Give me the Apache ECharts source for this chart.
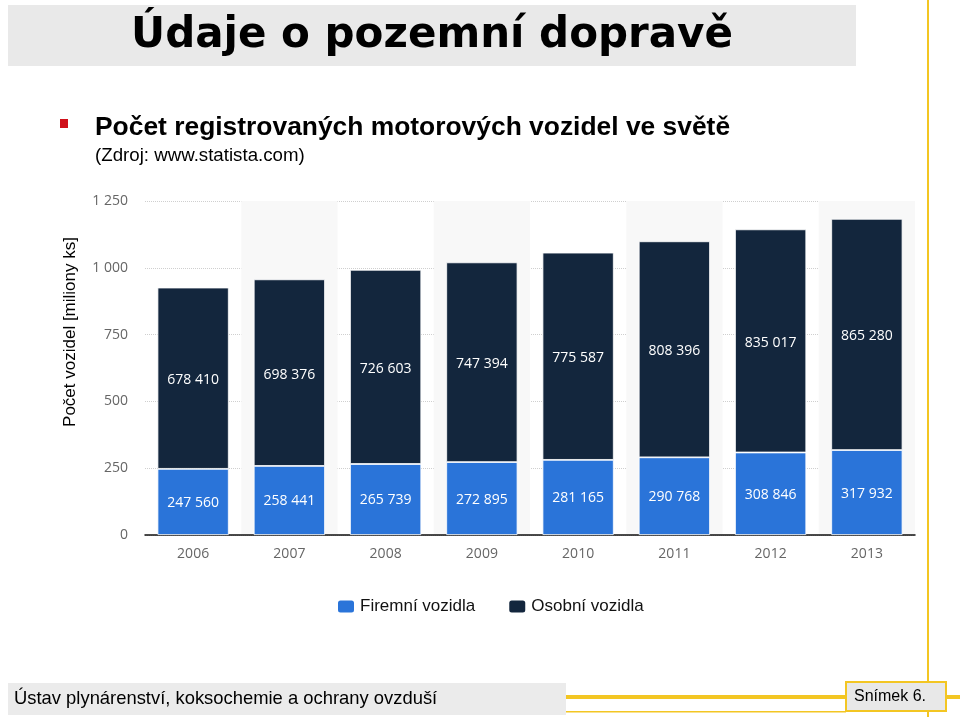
<!DOCTYPE html>
<html><head><meta charset="utf-8">
<script src="https://cdn.jsdelivr.net/npm/echarts@6/dist/echarts.min.js"></script>
<style>html,body{margin:0;padding:0;background:#fff}#c{width:960px;height:717px}</style>
</head><body><div id="c"></div>
<script>
const categories = ['2006','2007','2008','2009','2010','2011','2012','2013'];
const firemni = [247560, 258441, 265739, 272895, 281165, 290768, 308846, 317932];
const osobni = [678410, 698376, 726603, 747394, 775587, 808396, 835017, 865280];
const seriesNames = ['Firemní vozidla', 'Osobní vozidla'];
const yTicks = [0, 250000, 500000, 750000, 1000000, 1250000];

function fmt(n){ return String(Math.round(n)).replace(/\B(?=(\d{3})+(?!\d))/g, ' '); }

const YEL = '#f3c623';
const chart = echarts.init(document.getElementById('c'), null, {renderer:'canvas'});
chart.setOption({
  animation: false,
  backgroundColor: '#fff',
  grid: {left: 145, right: 45, top: 201, bottom: 182},
  legend: {
    data: seriesNames, left: 331, top: 593, itemWidth: 18, itemHeight: 14, itemGap: 32,
    icon: 'roundRect',
    textStyle: {fontFamily: 'Liberation Sans, Arial', fontSize: 17, color: '#111'}
  },
  xAxis: {
    type: 'category', data: categories,
    axisLine: {lineStyle: {color: '#111', width: 1.5}},
    axisTick: {show: false},
    axisLabel: {fontFamily: 'Open Sans', fontSize: 14, color: '#666', margin: 12},
    splitArea: {show: true, areaStyle: {color: ['rgba(255,255,255,0)', '#f8f8f8']}}
  },
  yAxis: {
    type: 'value', min: 0, max: 1250000, interval: 250000,
    axisLine: {show: false}, axisTick: {show: false},
    axisLabel: {fontFamily: 'Open Sans', fontSize: 14, color: '#666', margin: 17,
      formatter: v => fmt(v/1000)},
    splitLine: {lineStyle: {color: '#cfcfcf', type: [1, 1], width: 1}}
  },
  series: [
    {name: seriesNames[0], type: 'bar', stack: 't', data: firemni, barCategoryGap: '26%',
     itemStyle: {color: '#2a74d9', borderColor: '#fff', borderWidth: 0.8},
     label: {show: true, position: 'inside', color: '#fff', fontFamily: 'Open Sans', fontSize: 14, offset: [0, 1],
       formatter: p => fmt(p.value)}},
    {name: seriesNames[1], type: 'bar', stack: 't', data: osobni,
     itemStyle: {color: '#13263d', borderColor: '#fff', borderWidth: 0.8},
     label: {show: true, position: 'inside', color: '#fff', fontFamily: 'Open Sans', fontSize: 14, offset: [0, 2],
       formatter: p => fmt(p.value)}}
  ],
  graphic: [
    {type: 'rect', shape: {x: 8, y: 5, width: 848, height: 61}, style: {fill: '#e9e9e9'}, z: 0},
    {type: 'text', x: 432, y: 36, style: {text: 'Údaje o pozemní dopravě', fontFamily: 'DejaVu Sans',
      fontWeight: 'bold', fontSize: 42, fill: '#000', align: 'center', verticalAlign: 'middle'}},
    {type: 'rect', shape: {x: 60, y: 119, width: 8, height: 9}, style: {fill: '#d0101a'}},
    {type: 'text', x: 95, y: 128, style: {text: 'Počet registrovaných motorových vozidel ve světě', fontFamily: 'Liberation Sans, Arial',
      fontWeight: 'bold', fontSize: 26.4, fill: '#000', align: 'left', verticalAlign: 'middle'}},
    {type: 'text', x: 95, y: 156, style: {text: '(Zdroj: www.statista.com)', fontFamily: 'Liberation Sans, Arial',
      fontSize: 18.7, fill: '#000', align: 'left', verticalAlign: 'middle'}},
    {type: 'text', x: 70, y: 332, rotation: Math.PI/2, style: {text: 'Počet vozidel [miliony ks]', fontFamily: 'Liberation Sans, Arial',
      fontSize: 17, fill: '#000', align: 'center', verticalAlign: 'middle'}},
    {type: 'rect', shape: {x: 927, y: 0, width: 2, height: 717}, style: {fill: YEL}},
    {type: 'rect', shape: {x: 8, y: 683, width: 558, height: 32}, style: {fill: '#ebebeb'}},
    {type: 'text', x: 14, y: 699, style: {text: 'Ústav plynárenství, koksochemie a ochrany ovzduší', fontFamily: 'Liberation Sans, Arial',
      fontSize: 18.4, fill: '#000', align: 'left', verticalAlign: 'middle'}},
    {type: 'rect', shape: {x: 566, y: 695, width: 394, height: 4}, style: {fill: YEL}},
    {type: 'rect', shape: {x: 566, y: 711, width: 280, height: 1.5}, style: {fill: YEL}},
    {type: 'rect', shape: {x: 846, y: 682, width: 100, height: 29}, style: {fill: '#e8e8e8', stroke: YEL, lineWidth: 2}},
    {type: 'text', x: 890, y: 697, style: {text: 'Snímek 6.', fontFamily: 'Liberation Sans, Arial',
      fontSize: 16, fill: '#000', align: 'center', verticalAlign: 'middle'}}
  ]
});
</script></body></html>
